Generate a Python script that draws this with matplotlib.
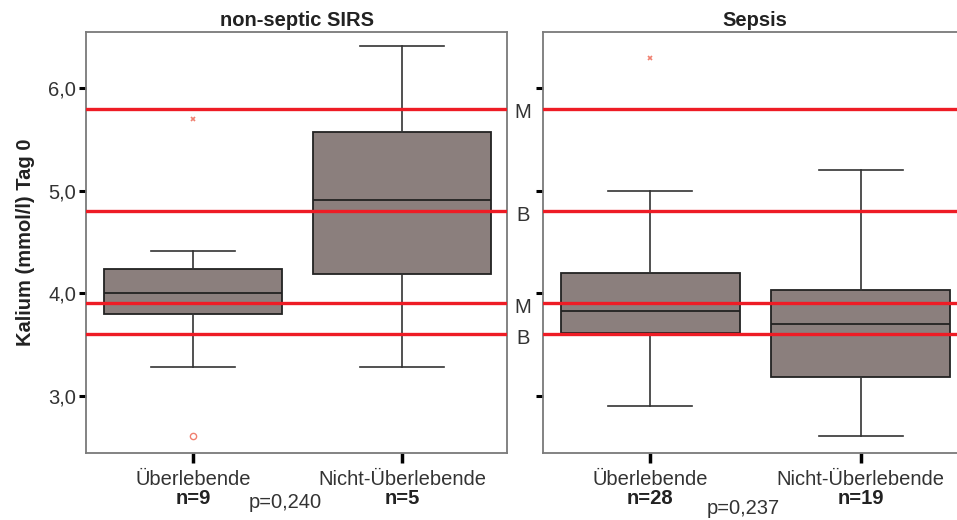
import matplotlib.pyplot as plt
import matplotlib.transforms as mtransforms

plt.rcParams['font.family'] = ['Liberation Sans', 'DejaVu Sans']

# Kalium Tag 0 (mmol/l): Kennwerte der Boxplots je Gruppe
groups = ["Überlebende", "Nicht-Überlebende"]

sirs_n = [9, 5]
sirs_q1 = [3.80, 4.19]
sirs_med = [4.00, 4.91]
sirs_q3 = [4.24, 5.57]
sirs_whislo = [3.28, 3.28]
sirs_whishi = [4.41, 6.41]
sirs_extreme = [[5.70], []]     # Extremwerte (x)
sirs_outlier = [[2.61], []]     # Ausreißer (o)
sirs_p = "p=0,240"

sepsis_n = [28, 19]
sepsis_q1 = [3.61, 3.18]
sepsis_med = [3.83, 3.70]
sepsis_q3 = [4.20, 4.03]
sepsis_whislo = [2.90, 2.61]
sepsis_whishi = [5.00, 5.20]
sepsis_extreme = [[6.30], []]
sepsis_outlier = [[], []]
sepsis_p = "p=0,237"

# Referenzgrenzen (M / B)
ref_values = [5.8, 4.8, 3.9, 3.6]
ref_labels = ["M", "B", "M", "B"]

yticks = [3.0, 4.0, 5.0, 6.0]
ylim = (2.44, 6.55)

BOX_COLOR = "#8b7f7d"
RED = "#ee1c25"
FLIER = "#f08070"
FS = 14.5


def draw_panel(ax, title, n, q1, med, q3, wlo, whi, extreme, outlier, ptext, poff, show_labels):
    stats = []
    for i in range(len(groups)):
        stats.append(dict(med=med[i], q1=q1[i], q3=q3[i],
                          whislo=wlo[i], whishi=whi[i], fliers=[]))
    ax.bxp(stats, positions=[1, 2], widths=0.85, patch_artist=True,
           showfliers=False,
           boxprops=dict(facecolor=BOX_COLOR, edgecolor="#222222", linewidth=1.3),
           medianprops=dict(color="#222222", linewidth=1.3),
           whiskerprops=dict(color="#333333", linewidth=1.2),
           capprops=dict(color="#333333", linewidth=1.2),
           capwidths=0.4)

    for i in range(len(groups)):
        if extreme[i]:
            ax.plot([i + 1] * len(extreme[i]), extreme[i], 'x', color=FLIER,
                    ms=3, mew=1.2, zorder=4)
        if outlier[i]:
            ax.plot([i + 1] * len(outlier[i]), outlier[i], 'o', mfc='none',
                    mec=FLIER, ms=4.5, mew=1, zorder=4)

    # Referenzlinien
    for v in ref_values:
        ax.axhline(v, color=RED, lw=2.4, zorder=3)

    ax.set_ylim(*ylim)
    ax.set_xlim(0.49, 2.5)
    ax.set_yticks(yticks)
    if show_labels:
        ax.set_yticklabels([f"{t:.1f}".replace(".", ",") for t in yticks], fontsize=FS, color="#333333")
    else:
        ax.set_yticklabels([])
    ax.tick_params(axis='y', length=5, width=2.2, color="black", pad=2)
    ax.set_xticks([1, 2])
    ax.set_xticklabels(groups, fontsize=FS, color="#333333")
    ax.tick_params(axis='x', length=7, width=2.5, color="black", pad=5)

    for s in ax.spines.values():
        s.set_color("#7a7a7a")
        s.set_linewidth(1.3)

    ax.set_title(title, fontsize=FS, fontweight="bold", color="#222222", pad=4)

    for i in range(len(groups)):
        ax.annotate(f"n={n[i]}", xy=(i + 1, 0), xycoords=('data', 'axes fraction'),
                    xytext=(0, -46), textcoords='offset pixels',
                    ha='center', va='center', fontsize=FS, fontweight='bold', color="#222222")
    ax.annotate(ptext, xy=(1.44, 0), xycoords=('data', 'axes fraction'),
                xytext=(0, -poff), textcoords='offset pixels',
                ha='center', va='center', fontsize=FS, color="#333333")


fig = plt.figure(figsize=(9.57, 5.2), dpi=100)
ax1 = fig.add_axes([86 / 957, 1 - 453 / 520, 421 / 957, 421 / 520])
ax2 = fig.add_axes([543 / 957, 1 - 453 / 520, 423 / 957, 421 / 520])

draw_panel(ax1, "non-septic SIRS", sirs_n, sirs_q1, sirs_med, sirs_q3,
           sirs_whislo, sirs_whishi, sirs_extreme, sirs_outlier, sirs_p, 50, True)
draw_panel(ax2, "Sepsis", sepsis_n, sepsis_q1, sepsis_med, sepsis_q3,
           sepsis_whislo, sepsis_whishi, sepsis_extreme, sepsis_outlier, sepsis_p, 55, False)
ax2.spines['right'].set_visible(False)

ax1.set_ylabel("Kalium (mmol/l) Tag 0", fontsize=FS, fontweight="bold", color="#222222", labelpad=10)

# Beschriftung der Referenzlinien zwischen den Panels
trans = mtransforms.blended_transform_factory(ax1.transAxes, ax1.transData)
for v, lab in zip(ref_values, ref_labels):
    ax1.text(1.038, v - 0.04, lab, transform=trans, ha='center', va='center',
             fontsize=FS, color="#333333", clip_on=False)

fig.savefig("out.png", dpi=100)
